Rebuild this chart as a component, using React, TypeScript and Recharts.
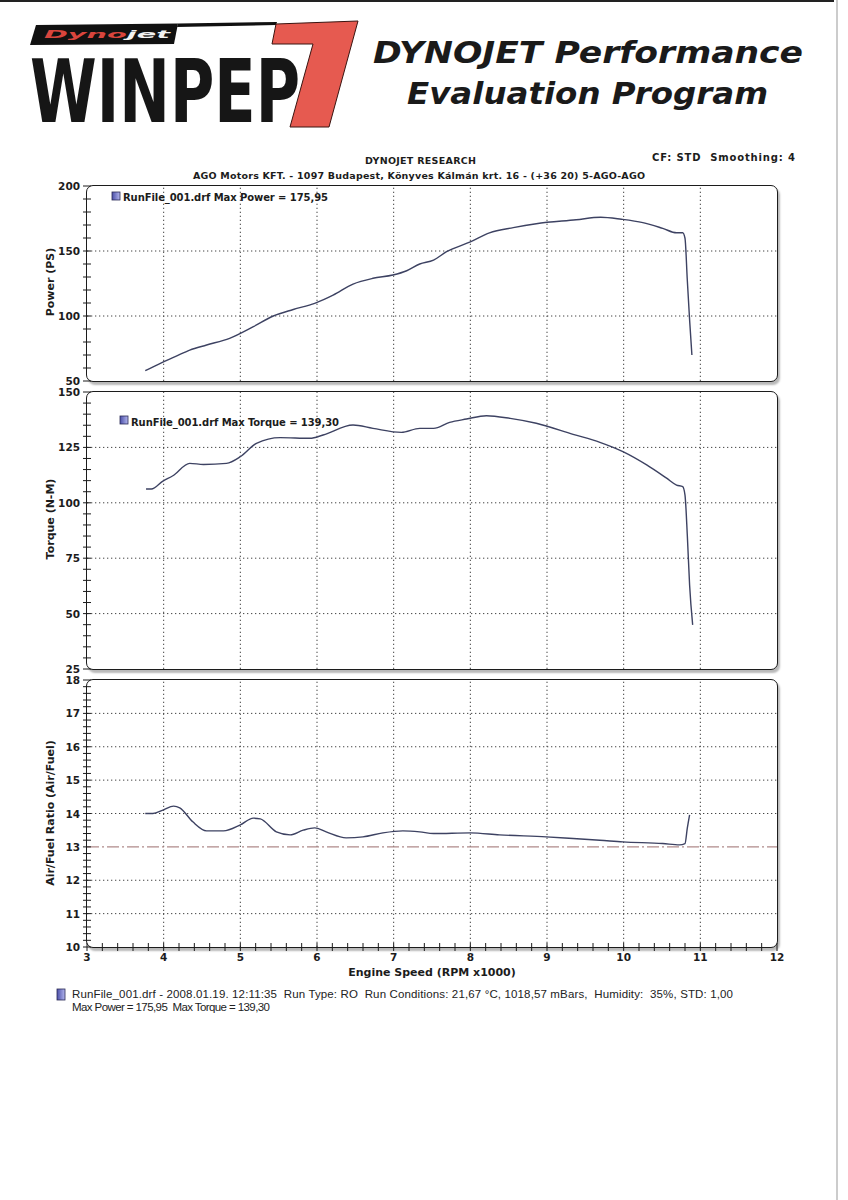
import { LineChart, Line, XAxis, YAxis, ReferenceLine } from "recharts"

// axis labels / grid positions
const rpmLabels = [3, 4, 5, 6, 7, 8, 9, 10, 11, 12]
const rpmGrid = [4, 5, 6, 7, 8, 9, 10, 11]

const powerLabels = [50, 100, 150, 200]
const powerGrid = [100, 150]
const torqueLabels = [25, 50, 75, 100, 125, 150]
const torqueGrid = [50, 75, 100, 125]
const afrLabels = [10, 11, 12, 13, 14, 15, 16, 17, 18]
const afrGrid = [11, 12, 14, 15, 16, 17]
const afrTarget = 13

// power run (RPM x1000 -> PS)
const powerRpm = [3.76, 3.97, 4.15, 4.34, 4.56, 4.86, 5.17, 5.43, 5.69, 5.97, 6.21, 6.47, 6.73, 6.99, 7.17, 7.34, 7.52, 7.69, 8.0, 8.25, 8.56, 8.86, 9.38, 9.7, 9.97, 10.25, 10.51, 10.69, 10.77, 10.8, 10.83, 10.86, 10.89]
const powerPs = [57.9, 64, 68.7, 73.8, 77.7, 82.8, 91.8, 100, 105, 109.7, 116, 124.6, 129, 131.5, 134.8, 140, 143, 149.5, 157, 164, 168, 171, 174, 175.95, 174.4, 171.8, 167.4, 164, 164, 159.8, 127.7, 97, 70]

// torque run (RPM x1000 -> N-M)
const torqueRpm = [3.77, 3.84, 3.99, 4.12, 4.34, 4.52, 4.82, 5.0, 5.21, 5.52, 5.91, 6.08, 6.47, 6.73, 7.1, 7.34, 7.52, 7.73, 7.95, 8.21, 8.52, 8.86, 9.34, 9.69, 9.99, 10.3, 10.56, 10.69, 10.77, 10.8, 10.83, 10.86, 10.9]
const torqueNm = [106.2, 106.2, 109.8, 112.2, 117.8, 117.3, 117.8, 120.8, 126.8, 129.4, 129.1, 130.6, 135.1, 133.6, 131.8, 133.6, 133.6, 136.3, 137.8, 139.3, 138.1, 135.9, 130.9, 127.3, 123.1, 117.1, 111.1, 108, 107.3, 103.5, 85.5, 62.9, 44.9]

// air / fuel ratio
const afrRpm = [3.76, 3.86, 3.99, 4.13, 4.21, 4.38, 4.56, 4.78, 5.0, 5.17, 5.26, 5.47, 5.65, 5.82, 5.97, 6.12, 6.38, 6.6, 6.86, 7.12, 7.34, 7.52, 8.0, 8.38, 8.99, 9.34, 9.69, 9.99, 10.51, 10.73, 10.8, 10.83, 10.86]
const afrValues = [14.0, 14.0, 14.1, 14.22, 14.17, 13.75, 13.48, 13.48, 13.66, 13.86, 13.84, 13.45, 13.36, 13.5, 13.57, 13.45, 13.27, 13.3, 13.42, 13.48, 13.45, 13.4, 13.42, 13.36, 13.3, 13.25, 13.2, 13.15, 13.1, 13.06, 13.1, 13.56, 13.96]

const FONT = "'DejaVu Sans', Verdana, sans-serif"
const INK = "#1c1c1c"
const CURVE = "#3d4262"
const DOTS = "#444"

const powerData = powerRpm.map((rpm, i) => ({ rpm, value: powerPs[i] }))
const torqueData = torqueRpm.map((rpm, i) => ({ rpm, value: torqueNm[i] }))
const afrData = afrRpm.map((rpm, i) => ({ rpm, value: afrValues[i] }))

const fmt = (v: number) => v.toFixed(2).replace(".", ",")
const maxPower = fmt(Math.max(...powerPs))
const maxTorque = fmt(Math.max(...torqueNm))

// minor tick positions between the labelled ones
function minorTicks(from: number, to: number, step: number) {
  const out: number[] = []
  for (let v = from; v <= to + 1e-9; v += step) out.push(Math.round(v * 100) / 100)
  return out
}

function yTick(labels: number[]) {
  return (props: any) => {
    const { x, y, payload } = props
    const v = payload.value
    return (
      <g>
        <line x1={x - 4} x2={x + 4} y1={y} y2={y} stroke={INK} strokeWidth={1} />
        {labels.includes(v) && (
          <text x={x - 7} y={y} dy={4} textAnchor="end" fontFamily={FONT} fontWeight="bold" fontSize={10.5} fill={INK}>
            {v}
          </text>
        )}
      </g>
    )
  }
}

function xTick(props: any) {
  const { x, y, payload } = props
  const v = payload.value
  return (
    <g>
      <line x1={x} x2={x} y1={y - 4} y2={y + 4} stroke={INK} strokeWidth={1} />
      {rpmLabels.includes(v) && (
        <text x={x} y={y + 14} textAnchor="middle" fontFamily={FONT} fontWeight="bold" fontSize={10.5} fill={INK}>
          {v}
        </text>
      )}
    </g>
  )
}

const gridLine = { stroke: DOTS, strokeDasharray: "1.3 2.7", strokeWidth: 1 }
const margin = { top: 10, right: 71, bottom: 10, left: 0 }
const pre = { whiteSpace: "pre" } as React.CSSProperties

function Frame({ top, height }: { top: number; height: number }) {
  return (
    <div
      style={{
        position: "absolute",
        left: 86,
        top,
        width: 692,
        height,
        boxSizing: "border-box",
        border: `1.6px solid ${INK}`,
        borderRadius: 7,
        boxShadow: "2px 3px 2px #b9b9b9",
        background: "#fff"
      }}
    />
  )
}

export default function App() {
  const abs = (top: number): React.CSSProperties => ({ position: "absolute", left: 0, top })

  return (
    <div style={{ position: "absolute", left: 0, top: 0, width: 848, height: 1200, background: "#fff", overflow: "hidden" }}>

      {/* page / header artwork and static text */}
      <svg width={848} height={1200} style={{ position: "absolute", left: 0, top: 0 }}>
        <defs>
          <linearGradient id="chip" x1="0" y1="0" x2="1" y2="0">
            <stop offset="0" stopColor="#4b4fa8" />
            <stop offset="1" stopColor="#b3b6ee" />
          </linearGradient>
        </defs>

        <line x1={0} x2={834} y1={1} y2={1} stroke="#222" strokeWidth={2} />
        <line x1={837} x2={837} y1={0} y2={1200} stroke="#bbb" strokeWidth={1.5} />

        {/* Dynojet banner */}
        <polygon points="36,25 178,23.5 174,44 30,45" fill="#111" />
        <polygon points="178,23.5 277,22 276,25 177,27" fill="#111" />
        <text x={44} y={38} fontFamily={FONT} fontStyle="italic" fontWeight="bold" fontSize={10.5} textLength={126} lengthAdjust="spacingAndGlyphs">
          <tspan fill="#d9453d">Dyno</tspan>
          <tspan fill="#f2f2f2">jet</tspan>
        </text>

        {/* WINPEP7 */}
        <text x={30} y={122} fontFamily={FONT} fontWeight="bold" fontSize={87} fill="#161616" textLength={270} lengthAdjust="spacingAndGlyphs">
          WINPEP
        </text>
        <polygon points="276,24 358,21 329,127 290,127 313,44 272,44" fill="#e65a50" stroke="#3a1410" strokeWidth={1} />

        <text x={373} y={63} fontFamily={FONT} fontStyle="italic" fontWeight="bold" fontSize={31} fill="#1a1a1a" textLength={430} lengthAdjust="spacingAndGlyphs">
          DYNOJET Performance
        </text>
        <text x={407} y={104} fontFamily={FONT} fontStyle="italic" fontWeight="bold" fontSize={31} fill="#1a1a1a" textLength={361} lengthAdjust="spacingAndGlyphs">
          Evaluation Program
        </text>

        {/* titles */}
        <text x={365} y={164} fontFamily={FONT} fontWeight="bold" fontSize={9.5} fill={INK} textLength={111}>
          DYNOJET RESEARCH
        </text>
        <text x={652} y={161} fontFamily={FONT} fontWeight="bold" fontSize={10} fill={INK} textLength={143} style={pre}>
          CF: STD  Smoothing: 4
        </text>
        <text x={193} y={179} fontFamily={FONT} fontWeight="bold" fontSize={9.5} fill={INK} textLength={452}>
          AGO Motors KFT. - 1097 Budapest, Könyves Kálmán krt. 16 - (+36 20) 5-AGO-AGO
        </text>

        {/* footer */}
        <rect x={57} y={989} width={8} height={11} fill="url(#chip)" stroke="#2a2a55" strokeWidth={0.8} />
        <text x={72} y={998} fontFamily="'Liberation Sans', Arial, sans-serif" fontSize={11.5} fill="#222" textLength={661} style={pre}>
          RunFile_001.drf - 2008.01.19. 12:11:35  Run Type: RO  Run Conditions: 21,67 °C, 1018,57 mBars,  Humidity:  35%, STD: 1,00
        </text>
        <text x={72} y={1011} fontFamily="'Liberation Sans', Arial, sans-serif" fontSize={11.5} fill="#222" textLength={198} style={pre}>
          {`Max Power = ${maxPower}  Max Torque = ${maxTorque}`}
        </text>
      </svg>

      <Frame top={185} height={197} />
      <Frame top={391} height={279} />
      <Frame top={679} height={269} />

      {/* Power */}
      <div style={abs(176)}>
        <LineChart width={848} height={215} data={powerData} margin={margin}>
          <XAxis dataKey="rpm" type="number" domain={[3, 12]} hide />
          <YAxis
            type="number"
            domain={[50, 200]}
            ticks={minorTicks(50, 200, 10)}
            interval={0}
            width={87}
            axisLine={false}
            tickLine={false}
            tickSize={0}
            tickMargin={0}
            tick={yTick(powerLabels)}
            allowDataOverflow
          />
          {rpmGrid.map((v) => <ReferenceLine key={"x" + v} x={v} {...gridLine} />)}
          {powerGrid.map((v) => <ReferenceLine key={"y" + v} y={v} {...gridLine} />)}
          <Line type="monotone" dataKey="value" stroke={CURVE} strokeWidth={1.4} dot={false} isAnimationActive={false} />
        </LineChart>
      </div>

      {/* Torque */}
      <div style={abs(382)}>
        <LineChart width={848} height={297} data={torqueData} margin={margin}>
          <XAxis dataKey="rpm" type="number" domain={[3, 12]} hide />
          <YAxis
            type="number"
            domain={[25, 150]}
            ticks={minorTicks(25, 150, 5)}
            interval={0}
            width={87}
            axisLine={false}
            tickLine={false}
            tickSize={0}
            tickMargin={0}
            tick={yTick(torqueLabels)}
            allowDataOverflow
          />
          {rpmGrid.map((v) => <ReferenceLine key={"x" + v} x={v} {...gridLine} />)}
          {torqueGrid.map((v) => <ReferenceLine key={"y" + v} y={v} {...gridLine} />)}
          <Line type="monotone" dataKey="value" stroke={CURVE} strokeWidth={1.4} dot={false} isAnimationActive={false} />
        </LineChart>
      </div>

      {/* Air / Fuel */}
      <div style={abs(670)}>
        <LineChart width={848} height={312} data={afrData} margin={{ ...margin, bottom: 0 }}>
          <XAxis
            dataKey="rpm"
            type="number"
            domain={[3, 12]}
            ticks={minorTicks(3, 12, 0.2)}
            interval={0}
            height={35}
            axisLine={false}
            tickLine={false}
            tickSize={0}
            tickMargin={0}
            tick={xTick}
            allowDataOverflow
          />
          <YAxis
            type="number"
            domain={[10, 18]}
            ticks={minorTicks(10, 18, 0.2)}
            interval={0}
            width={87}
            axisLine={false}
            tickLine={false}
            tickSize={0}
            tickMargin={0}
            tick={yTick(afrLabels)}
            allowDataOverflow
          />
          {rpmGrid.map((v) => <ReferenceLine key={"x" + v} x={v} {...gridLine} />)}
          {afrGrid.map((v) => <ReferenceLine key={"y" + v} y={v} {...gridLine} />)}
          <ReferenceLine y={afrTarget} stroke="#b08a8a" strokeWidth={1.2} strokeDasharray="12 3 2 3" />
          <Line type="monotone" dataKey="value" stroke={CURVE} strokeWidth={1.4} dot={false} isAnimationActive={false} />
        </LineChart>
      </div>

      {/* legends and axis titles on top */}
      <svg width={848} height={1200} style={{ position: "absolute", left: 0, top: 0, pointerEvents: "none" }}>
        <defs>
          <linearGradient id="chip2" x1="0" y1="0" x2="1" y2="0">
            <stop offset="0" stopColor="#4b4fa8" />
            <stop offset="1" stopColor="#b3b6ee" />
          </linearGradient>
        </defs>
        <rect x={112} y={192} width={8} height={8} fill="url(#chip2)" stroke="#2a2a55" strokeWidth={0.8} />
        <text x={123} y={201} fontFamily={FONT} fontWeight="bold" fontSize={10} fill={INK} textLength={205}>
          {`RunFile_001.drf Max Power = ${maxPower}`}
        </text>
        <rect x={120} y={416} width={8} height={8} fill="url(#chip2)" stroke="#2a2a55" strokeWidth={0.8} />
        <text x={131} y={425.5} fontFamily={FONT} fontWeight="bold" fontSize={10} fill={INK} textLength={208}>
          {`RunFile_001.drf Max Torque = ${maxTorque}`}
        </text>

        <text transform="translate(54,282) rotate(-90)" textAnchor="middle" fontFamily={FONT} fontWeight="bold" fontSize={11} fill={INK}>
          Power (PS)
        </text>
        <text transform="translate(54,519) rotate(-90)" textAnchor="middle" fontFamily={FONT} fontWeight="bold" fontSize={11} fill={INK}>
          Torque (N-M)
        </text>
        <text transform="translate(54,813) rotate(-90)" textAnchor="middle" fontFamily={FONT} fontWeight="bold" fontSize={11} fill={INK}>
          Air/Fuel Ratio (Air/Fuel)
        </text>
        <text x={432} y={976} textAnchor="middle" fontFamily={FONT} fontWeight="bold" fontSize={11} fill={INK}>
          Engine Speed (RPM x1000)
        </text>
      </svg>
    </div>
  )
}
